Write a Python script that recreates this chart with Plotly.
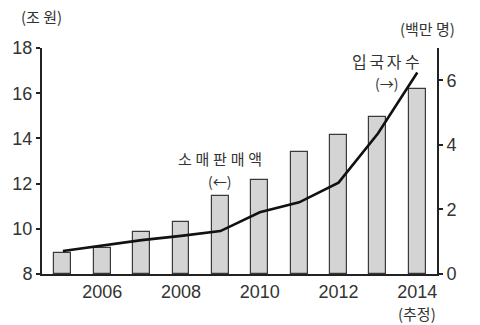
import plotly.graph_objects as go

years = [2005, 2006, 2007, 2008, 2009, 2010, 2011, 2012, 2013, 2014]
retail_sales = [8.92, 9.14, 9.85, 10.29, 11.44, 12.15, 13.42, 14.14, 14.94, 16.18]  # 조 원
arrivals = [0.71, 0.88, 1.05, 1.18, 1.33, 1.91, 2.22, 2.83, 4.35, 6.24]  # 백만 명
x_ticks = [2006, 2008, 2010, 2012, 2014]

TXT = "#333333"
FONT = "Liberation Sans, Arial, sans-serif"
KFONT = "Noto Sans CJK KR, sans-serif"
SP = "\u2005"
SP6 = "\u2006"

fig = go.Figure()
fig.add_trace(go.Bar(
    x=years, y=[v - 8 for v in retail_sales], base=8, width=0.43,
    marker=dict(color="#d4d4d4", line=dict(color="#3a3a3a", width=1.2)),
    yaxis="y", showlegend=False,
))
fig.add_trace(go.Scatter(
    x=years, y=arrivals, mode="lines",
    line=dict(color="#111111", width=2.6),
    yaxis="y2", showlegend=False,
))

fig.update_layout(
    width=480, height=325,
    margin=dict(l=42, r=43, t=48, b=51),
    paper_bgcolor="white", plot_bgcolor="white",
    font=dict(family=FONT, color=TXT, size=18),
    xaxis=dict(range=[2004.47, 2014.5], tickvals=x_ticks, ticks="",
               showline=True, linecolor="#222", linewidth=2,
               showgrid=False, zeroline=False,
               tickfont=dict(size=18, family=FONT, color=TXT)),
    yaxis=dict(range=[8, 18], dtick=2, ticks="outside", ticklen=4, tickwidth=1.5,
               tickcolor="#222", showline=True, linecolor="#222", linewidth=2,
               showgrid=False, zeroline=False,
               tickfont=dict(size=18, family=FONT, color=TXT)),
    yaxis2=dict(range=[0, 7], tickvals=[0, 2, 4, 6], ticks="outside", ticklen=4,
                tickwidth=1.5, tickcolor="#222", overlaying="y", side="right",
                showline=True, linecolor="#222", linewidth=2,
                showgrid=False, zeroline=False,
                tickfont=dict(size=18, family=FONT, color=TXT)),
    bargap=0,
)

ann = [
    dict(text="(조 원)", x=41, y=17, size=15),
    dict(text="(백만 명)", x=427, y=29, size=15),
    dict(text="(추정)", x=417, y=313, size=15),
    dict(text=SP.join("소매판매액"), x=220, y=158, size=15),
    dict(text="(←)", x=219, y=181, size=14),
    dict(text=SP6.join("입국자") + " 수", x=386, y=61, size=16),
    dict(text="(→)", x=386, y=83, size=14),
]
for a in ann:
    fig.add_annotation(
        text=a["text"], xref="paper", yref="paper",
        x=(a["x"] - 42) / (480 - 42 - 43),
        y=(325 - 51 - a["y"]) / (325 - 48 - 51),
        xanchor="center", yanchor="middle", showarrow=False,
        font=dict(family=KFONT, size=a["size"], color=TXT),
    )

fig.write_html("out.html")
